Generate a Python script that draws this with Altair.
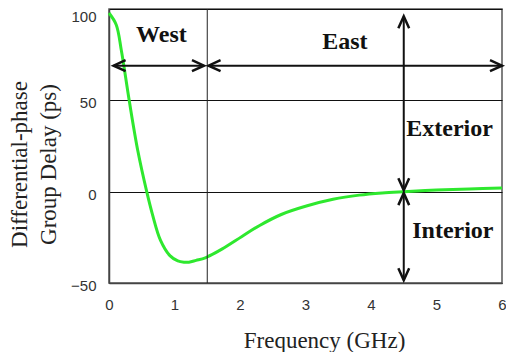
import altair as alt
import pandas as pd

# Curve
freq = [0.0, 0.11, 0.19, 0.31, 0.44, 0.576, 0.66, 0.785, 0.93, 1.05, 1.15, 1.22, 1.33, 1.47,
        1.73, 2.03, 2.3, 2.63, 3.0, 3.42, 3.82, 4.17, 4.5, 5.0, 5.5, 6.0]
delay = [97.8, 91.4, 77, 49.6, 22.4, 0, -12, -26.5, -35, -37.9, -38.6, -38.6, -37.6, -36.2,
         -31.3, -24.5, -18.5, -12.5, -8, -4.2, -1.9, -0.7, 0, 0.9, 1.5, 2.0]

# Divider
divider_x = [1.5]

# Double arrows (segments)
arrow_x1 = [0.07, 1.52, 4.5, 4.5]
arrow_x2 = [1.45, 6.0, 4.5, 4.5]
arrow_y1 = [69, 69, 96, -0.8]
arrow_y2 = [69, 69, 0.8, -48.5]

# Region labels
label_text = ["West", "East", "Exterior", "Interior"]
label_x = [0.8, 3.6, 5.2, 5.25]
label_y = [86, 82, 34.5, -21.5]

curve_df = pd.DataFrame({"f": freq, "d": delay})
div_df = pd.DataFrame({"x": divider_x})
seg_df = pd.DataFrame({"x1": arrow_x1, "x2": arrow_x2, "y1": arrow_y1, "y2": arrow_y2})

heads = []
for x1, x2, y1, y2 in zip(arrow_x1, arrow_x2, arrow_y1, arrow_y2):
    if x1 == x2:
        up_end = (x2, y2) if y2 > y1 else (x1, y1)
        dn_end = (x1, y1) if y2 > y1 else (x2, y2)
        heads.append({"x": up_end[0], "y": up_end[1], "a": 270})
        heads.append({"x": dn_end[0], "y": dn_end[1], "a": 90})
    else:
        heads.append({"x": min(x1, x2), "y": y1, "a": 180})
        heads.append({"x": max(x1, x2), "y": y1, "a": 0})
head_df = pd.DataFrame(heads)
lab_df = pd.DataFrame({"t": label_text, "x": label_x, "y": label_y})

xscale = alt.Scale(domain=[0, 6], nice=False, zero=False)
yscale = alt.Scale(domain=[-50, 100], nice=False)

x_axis = alt.Axis(values=[0, 1, 2, 3, 4, 5, 6], format="d", grid=False, ticks=False,
                  labelFlush=False, labelFont="Liberation Sans", labelFontSize=15,
                  labelColor="#333", labelPadding=14, domainColor="#444", domainWidth=1.5,
                  title="Frequency (GHz)", titleFont="Liberation Serif",
                  titleFontSize=23, titleFontWeight="normal", titleColor="#222",
                  titleX=215, titleY=64, titleBaseline="alphabetic", titleAlign="center")
y_axis = alt.Axis(values=[-50, 0, 50, 100], grid=True, gridColor="#111", gridWidth=1,
                  ticks=False, labelFlush=False, labelFont="Liberation Sans", labelFontSize=15,
                  labelColor="#333", labelPadding=13,
                  labelOffset=alt.condition("datum.value == 100", alt.value(7), alt.value(2.5)),
                  domainColor="#444", domainWidth=1.5,
                  title=["Differential-phase", "Group Delay (ps)"],
                  titleFont="Liberation Serif", titleFontSize=23, titleFontWeight="normal",
                  titleColor="#222", titleLineHeight=29, titleAngle=270,
                  titleX=-90, titleY=155, titleAlign="center", titleBaseline="middle")

curve = alt.Chart(curve_df).mark_line(color="#2ee82e", strokeWidth=3,
                                      interpolate="catmull-rom").encode(
    x=alt.X("f:Q", scale=xscale, axis=x_axis),
    y=alt.Y("d:Q", scale=yscale, axis=y_axis),
)

divider = alt.Chart(div_df).mark_rule(color="#222", strokeWidth=1).encode(
    x=alt.X("x:Q", scale=xscale),
    y=alt.datum(-50),
    y2=alt.datum(100),
)

segs = alt.Chart(seg_df).mark_rule(color="#111", strokeWidth=2).encode(
    x=alt.X("x1:Q", scale=xscale), x2="x2:Q",
    y=alt.Y("y1:Q", scale=yscale), y2="y2:Q",
)

heads_layer = alt.Chart(head_df).mark_point(
    shape="M-1,-0.45L0,0L-1,0.45", filled=False, size=576, strokeWidth=2.5,
    color="#111", opacity=1,
).encode(
    x=alt.X("x:Q", scale=xscale),
    y=alt.Y("y:Q", scale=yscale),
    angle=alt.Angle("a:Q", scale=None),
)

labels = alt.Chart(lab_df).mark_text(
    font="Liberation Serif", fontSize=24, fontWeight="bold", color="#111",
    align="center", baseline="middle",
).encode(
    x=alt.X("x:Q", scale=xscale),
    y=alt.Y("y:Q", scale=yscale),
    text="t:N",
)

chart = alt.layer(curve, divider, segs, heads_layer, labels).properties(
    width=393, height=274,
    autosize=alt.AutoSizeParams(type="none"),
    padding={"left": 101, "top": 1, "right": 4, "bottom": 69},
    background="white",
).configure_view(stroke="#555", strokeWidth=1.5)

chart.save("out.html", embed_options={"renderer": "svg", "actions": False})
